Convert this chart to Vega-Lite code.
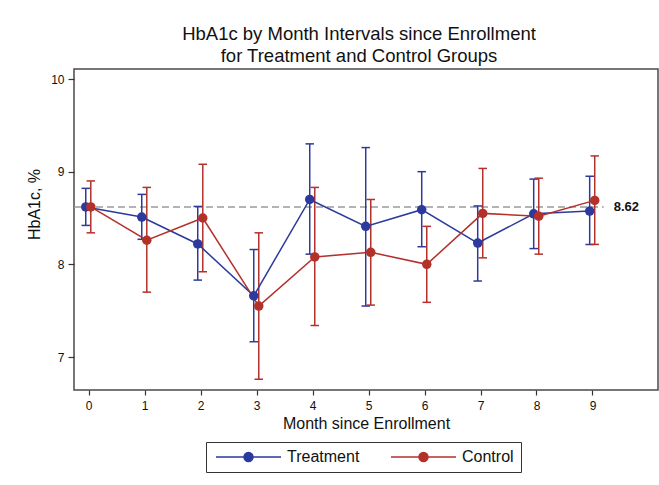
{
  "$schema": "https://vega.github.io/schema/vega-lite/v6.json",
  "width": 584,
  "height": 321,
  "autosize": "none",
  "padding": {"left": 74, "top": 69, "right": 1, "bottom": 95},
  "background": "white",
  "config": {
    "font": "Liberation Sans",
    "view": {"stroke": "#4a4a4a", "strokeWidth": 1.5},
    "axis": {
      "domain": false,
      "grid": false,
      "tickColor": "#333333",
      "tickWidth": 1.2,
      "labelColor": "#111111",
      "labelFontSize": 12,
      "labelFont": "Liberation Sans",
      "titleFont": "Liberation Sans",
      "titleFontSize": 16,
      "titleFontWeight": "normal",
      "titleColor": "#111111"
    },
    "axisX": {"tickSize": 5, "labelPadding": 5, "titlePadding": 4},
    "axisY": {"tickSize": 6, "labelPadding": 4, "titlePadding": 8}
  },
  "title": {
    "text": ["HbA1c by Month Intervals since Enrollment", "for Treatment and Control Groups"],
    "fontSize": 18.5,
    "fontWeight": "normal",
    "lineHeight": 21.5,
    "offset": 4,
    "anchor": "middle",
    "dx": -7,
    "color": "#111111",
    "font": "Liberation Sans"
  },
  "datasets": {
    "stats": [
      {"month": 0, "group": "Treatment", "mean": 8.62, "lo": 8.42, "hi": 8.82},
      {"month": 1, "group": "Treatment", "mean": 8.51, "lo": 8.27, "hi": 8.755},
      {"month": 2, "group": "Treatment", "mean": 8.22, "lo": 7.83, "hi": 8.625},
      {"month": 3, "group": "Treatment", "mean": 7.66, "lo": 7.165, "hi": 8.16},
      {"month": 4, "group": "Treatment", "mean": 8.70, "lo": 8.11, "hi": 9.30},
      {"month": 5, "group": "Treatment", "mean": 8.41, "lo": 7.55, "hi": 9.26},
      {"month": 6, "group": "Treatment", "mean": 8.59, "lo": 8.19, "hi": 9.00},
      {"month": 7, "group": "Treatment", "mean": 8.23, "lo": 7.82, "hi": 8.63},
      {"month": 8, "group": "Treatment", "mean": 8.545, "lo": 8.17, "hi": 8.92},
      {"month": 9, "group": "Treatment", "mean": 8.575, "lo": 8.215, "hi": 8.95},
      {"month": 0, "group": "Control", "mean": 8.62, "lo": 8.34, "hi": 8.90},
      {"month": 1, "group": "Control", "mean": 8.26, "lo": 7.70, "hi": 8.83},
      {"month": 2, "group": "Control", "mean": 8.50, "lo": 7.92, "hi": 9.08},
      {"month": 3, "group": "Control", "mean": 7.55, "lo": 6.76, "hi": 8.34},
      {"month": 4, "group": "Control", "mean": 8.08, "lo": 7.34, "hi": 8.83},
      {"month": 5, "group": "Control", "mean": 8.13, "lo": 7.56, "hi": 8.70},
      {"month": 6, "group": "Control", "mean": 8.00, "lo": 7.59, "hi": 8.41},
      {"month": 7, "group": "Control", "mean": 8.55, "lo": 8.07, "hi": 9.035},
      {"month": 8, "group": "Control", "mean": 8.52, "lo": 8.11, "hi": 8.93},
      {"month": 9, "group": "Control", "mean": 8.69, "lo": 8.215, "hi": 9.17}
    ],
    "ref": [{"x": -0.26, "xend": 9.2, "value": 8.62, "label": "8.62"}]
  },
  "layer": [
    {
      "data": {"name": "ref"},
      "mark": {"type": "rule", "strokeDash": [7, 4], "color": "#9a9a9a", "strokeWidth": 1.5},
      "encoding": {
        "x": {
          "field": "x", "type": "quantitative",
          "scale": {"domain": [-0.26, 10.17], "nice": false, "zero": false},
          "axis": {"values": [0, 1, 2, 3, 4, 5, 6, 7, 8, 9], "format": "d"},
          "title": "Month since Enrollment"
        },
        "x2": {"field": "xend"},
        "y": {
          "field": "value", "type": "quantitative",
          "scale": {"domain": [6.644, 10.108], "nice": false, "zero": false},
          "axis": {"values": [7, 8, 9, 10], "format": "d", "labelAngle": 0, "titleY": 135},
          "title": "HbA1c, %"
        }
      }
    },
    {
      "data": {"name": "ref"},
      "mark": {"type": "text", "align": "left", "baseline": "middle", "fontWeight": "bold", "fontSize": 13, "dx": 10, "color": "#111111"},
      "encoding": {
        "x": {"field": "xend", "type": "quantitative", "title": "Month since Enrollment"},
        "y": {"field": "value", "type": "quantitative", "title": "HbA1c, %"},
        "text": {"field": "label"}
      }
    },
    {
      "data": {"name": "stats"},
      "transform": [
        {"calculate": "datum.month + (datum.group === 'Treatment' ? -0.05 : 0.04)", "as": "x"}
      ],
      "encoding": {
        "x": {"field": "x", "type": "quantitative", "title": "Month since Enrollment"},
        "color": {
          "field": "group", "type": "nominal",
          "scale": {"domain": ["Treatment", "Control"], "range": ["#2b3a9c", "#b3312a"]},
          "legend": {
            "orient": "none",
            "legendX": 132,
            "legendY": 373,
            "direction": "horizontal",
            "title": null,
            "strokeColor": "#333333",
            "padding": 7,
            "symbolType": "M-1,0H12M6.4,0A0.9,0.9,0,1,1,4.6,0A0.9,0.9,0,1,1,6.4,0Z",
            "symbolSize": 100,
            "symbolStrokeWidth": 1.5,
            "labelFontSize": 16,
            "labelFont": "Liberation Sans",
            "labelColor": "#111111",
            "labelOffset": 58,
            "columnPadding": 28,
            "encode": {
              "symbols": {
                "update": {
                  "stroke": {"scale": "color", "field": "value"},
                  "fill": {"scale": "color", "field": "value"},
                  "strokeWidth": {"value": 1.5},
                  "opacity": {"value": 1}
                }
              }
            }
          }
        }
      },
      "layer": [
        {
          "mark": {"type": "rule", "strokeWidth": 1.5},
          "encoding": {
            "y": {"field": "lo", "type": "quantitative", "title": "HbA1c, %"},
            "y2": {"field": "hi"}
          }
        },
        {
          "mark": {"type": "tick", "orient": "horizontal", "size": 8.5, "thickness": 1.5, "opacity": 1},
          "encoding": {
            "y": {"field": "lo", "type": "quantitative", "title": "HbA1c, %"}
          }
        },
        {
          "mark": {"type": "tick", "orient": "horizontal", "size": 8.5, "thickness": 1.5, "opacity": 1},
          "encoding": {
            "y": {"field": "hi", "type": "quantitative", "title": "HbA1c, %"}
          }
        },
        {
          "mark": {"type": "line", "strokeWidth": 1.5},
          "encoding": {
            "y": {"field": "mean", "type": "quantitative", "title": "HbA1c, %"},
            "detail": {"field": "group"}
          }
        },
        {
          "mark": {"type": "point", "filled": true, "size": 90, "opacity": 1, "shape": "circle"},
          "encoding": {
            "y": {"field": "mean", "type": "quantitative", "title": "HbA1c, %"}
          }
        }
      ]
    }
  ]
}
